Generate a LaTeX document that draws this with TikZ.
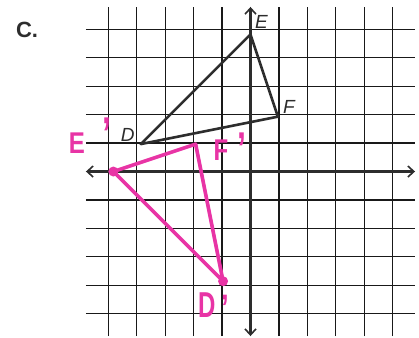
\documentclass[tikz,border=0pt]{standalone}
\usepackage{fontspec}
\setmainfont{Liberation Sans}
\usetikzlibrary{arrows.meta}
\definecolor{pen}{RGB}{45,45,45}
\definecolor{mag}{RGB}{232,52,165}
\begin{document}
\begin{tikzpicture}[x=27.42pt,y=27.42pt,
  gridline/.style={black!90,line width=1.2pt},
  axis/.style={pen,line width=3pt,-{Straight Barb[length=6pt,width=11pt,line width=1.6pt]}},
  pre/.style={pen,line width=2.6pt,line join=round},
  img/.style={mag,line width=3.6pt,line join=round,line cap=round},
  lbl/.style={pen,font=\itshape\fontsize{19}{19}\selectfont,inner sep=0pt},
  mlbl/.style={mag,font=\bfseries\fontsize{30}{30}\selectfont,inner sep=0pt},
  prm/.style={mag,font=\bfseries\fontsize{46}{46}\selectfont,inner sep=0pt,anchor=north}]
\useasboundingbox (-9.135,-6.036) rectangle (6.145,6.255);
\fill[white] (-9.135,-6.036) rectangle (6.145,6.255);
% grid
\draw[gridline] (-6,-6) grid (6,6);
% axes
\coordinate (xl) at (-6,0); \coordinate (xr) at (6,0);
\coordinate (yt) at (0,6); \coordinate (yb) at (0,-6);
\coordinate (o) at (0,0);
\draw[axis] (o) -- (xl);
\draw[axis] (o) -- (xr);
\draw[axis] (o) -- (yt);
\draw[axis] (o) -- (yb);
% title
\node[pen,font=\bfseries\fontsize{22}{22}\selectfont,inner sep=0pt] (title) at (-8.15,5.15) {C.};
% pre-image
\coordinate (D) at (-4,1);
\coordinate (E) at (0,5);
\coordinate (F) at (1,2);
\draw[pre] (D) -- (E) -- (F) -- cycle;
\node[lbl] (lD) at (-4.48,1.35) {D};
\node[lbl] (lE) at (0.40,5.45) {E};
\node[lbl] (lF) at (1.40,2.35) {F};
% image
\coordinate (D') at (-1,-4);
\coordinate (E') at (-5,0);
\coordinate (F') at (-2,1);
\draw[img] (D') -- (E') -- (F') -- cycle;
\fill[mag] (E') circle (5pt);
\fill[mag] (D') circle (5pt);
\node[mlbl] (lE1) at (-6.33,1.04) {\scalebox{0.8}[1.0]{E}};
\node[prm] (lE2) at (-5.23,1.95) {\scalebox{0.7}[1.0]{'}};
\node[mlbl] (lF1) at (-1.08,0.78) {\scalebox{0.8}[1.0]{F}};
\node[prm] (lF2) at (-0.31,1.40) {\scalebox{0.7}[1.0]{'}};
\node[mlbl] (lD1) at (-1.59,-4.87) {\scalebox{0.8}[1.2]{D}};
\node[prm] (lD2) at (-0.90,-4.50) {\scalebox{0.6}[0.8]{'}};
\end{tikzpicture}
\end{document}
